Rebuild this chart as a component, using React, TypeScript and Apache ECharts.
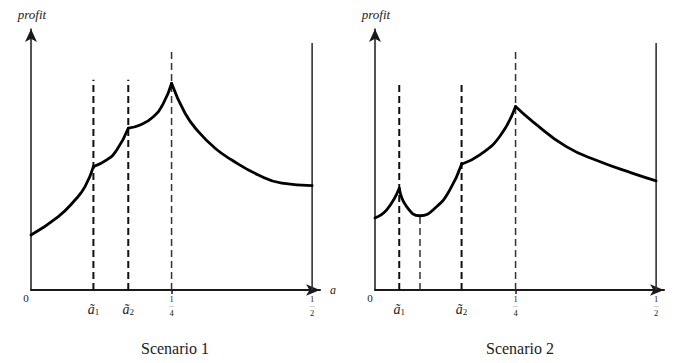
import React, { useEffect, useRef } from "react";
import * as echarts from "echarts";

// ---- Data (a-units on x, profit on y) ----
const tickValues1 = [0, 0.111, 0.173, 0.25, 0.5];
const tickValues2 = [0, 0.0431, 0.154, 0.25, 0.5];
const tickLabels = ["0", "a1", "a2", "1/4", "1/2"];

// Scenario 1 curve segments (kinks at ã1, ã2, 1/4)
const s1Seg1 = [[0, 20.6], [0.0486, 27.5], [0.0783, 33.7], [0.0961, 38.7], [0.111, 46.2]];
const s1Seg2 = [[0.111, 46.2], [0.1347, 48.7], [0.1525, 52.4], [0.173, 60.6]];
const s1Seg3 = [[0.173, 60.6], [0.194, 61.8], [0.2176, 64.9], [0.2354, 69.9], [0.25, 77.4]];
const s1Seg4 = [[0.25, 77.4], [0.274, 66.2], [0.2977, 59.3], [0.3274, 53.1], [0.3571, 48.7], [0.4044, 43.1], [0.4461, 40.0], [0.5, 39.1]];

// Scenario 2 curve segments
const s2Seg1 = [[0, 27.0], [0.0208, 30.0], [0.0431, 38.1]];
const s2Seg2 = [[0.0431, 38.1], [0.0563, 31.2], [0.08, 27.8], [0.1095, 31.2], [0.1331, 37.5], [0.154, 47.1]];
const s2Seg3 = [[0.154, 47.1], [0.1864, 50.6], [0.2218, 57.5], [0.25, 68.7]];
const s2Seg4 = [[0.25, 68.7], [0.281, 63.0], [0.3403, 53.7], [0.3994, 48.1], [0.4585, 43.7], [0.5, 40.9]];

// Vertical guide lines: [x, top]
const s1Dashed = [[0.111, 78.7], [0.173, 78.7]];
const s1Quarter = [0.25, 90.3];
const s2Dashed = [[0.0431, 77.5], [0.154, 77.5]];
const s2Thin = [[0.08, 27.8], [0.25, 90.3]];
const halfLine = [0.5, 92.5];

const Y_MAX = 97.75;
const X_MAX = 0.514;
const FONT = "Liberation Serif, DejaVu Serif, serif";

function richLabel(lbl: string): string {
  if (lbl === "0") return "{z|0}";
  if (lbl.startsWith("a")) return `{a|ã}{s|${lbl.slice(1)}}`;
  const [n, d] = lbl.split("/");
  return `{n|${n}}\n{b|—}\n{d|${d}}`;
}

const rich = {
  z: { fontSize: 11, lineHeight: 12, padding: [0, 10, 0, 0], fontFamily: FONT, color: "#222" },
  a: { fontSize: 14, lineHeight: 34, fontStyle: "italic", fontFamily: FONT, color: "#222" },
  s: { fontSize: 9, lineHeight: 28, padding: [6, 0, 0, 0], fontFamily: FONT, color: "#222" },
  n: { fontSize: 8.5, lineHeight: 10, padding: [4, 0, 0, 0], fontFamily: FONT, color: "#222" },
  b: { fontSize: 5, lineHeight: 6, fontFamily: FONT, color: "#222" },
  d: { fontSize: 8.5, lineHeight: 10, fontFamily: FONT, color: "#222" },
};

function xAxisFor(gridIndex: number, ticks: number[], withName: boolean) {
  return {
    type: "value",
    gridIndex,
    min: 0,
    max: X_MAX,
    name: withName ? "a" : "",
    nameLocation: "end",
    nameGap: 10,
    nameTextStyle: { fontFamily: FONT, fontStyle: "italic", fontSize: 12, color: "#222", verticalAlign: "middle" },
    axisLine: {
      show: true,
      symbol: ["none", "arrow"],
      symbolSize: [8.5, 14],
      lineStyle: { color: "#1a1a1a", width: 2 },
    },
    axisTick: { show: true, customValues: [0.25], length: 4, lineStyle: { color: "#1a1a1a", width: 1.5 } },
    axisLabel: {
      show: true,
      customValues: ticks,
      margin: 2,
      formatter: (v: number) => {
        const i = ticks.findIndex((t) => Math.abs(t - v) < 1e-6);
        return i >= 0 ? richLabel(tickLabels[i]) : "";
      },
      rich,
    },
    splitLine: { show: false },
  };
}

function yAxisFor(gridIndex: number) {
  return {
    type: "value",
    gridIndex,
    min: 0,
    max: Y_MAX,
    name: "profit",
    nameLocation: "end",
    nameGap: 8,
    nameTextStyle: { fontFamily: FONT, fontStyle: "italic", fontSize: 13, color: "#222", align: "center", padding: [0, 0, 0, 2] },
    axisLine: {
      show: true,
      symbol: ["none", "arrow"],
      symbolSize: [9, 13],
      lineStyle: { color: "#1a1a1a", width: 1.5 },
    },
    axisTick: { show: false },
    axisLabel: { show: false },
    splitLine: { show: false },
  };
}

function curve(idx: number, data: number[][]) {
  return {
    type: "line",
    xAxisIndex: idx,
    yAxisIndex: idx,
    data,
    smooth: 0.5,
    symbol: "none",
    z: 5,
    lineStyle: { color: "#000", width: 2.8, cap: "round", join: "round" },
  };
}

function vline(idx: number, x: number, top: number, width: number, dashed: boolean, color = "#111") {
  return {
    type: "line",
    xAxisIndex: idx,
    yAxisIndex: idx,
    data: [[x, 0], [x, top]],
    symbol: "none",
    z: 2,
    lineStyle: { color, width, type: dashed ? [7, 4] : "solid" },
  };
}

export default function App() {
  const ref = useRef<HTMLDivElement>(null);
  useEffect(() => {
    if (!ref.current) return;
    const chart = echarts.init(ref.current, undefined, { renderer: "svg" });
    const series: any[] = [
      ...s1Dashed.map(([x, t]) => vline(0, x, t, 2, true)),
      vline(0, s1Quarter[0], s1Quarter[1], 1.5, true, "#333"),
      vline(0, halfLine[0], halfLine[1], 1.6, false, "#333"),
      curve(0, s1Seg1),
      curve(0, s1Seg2),
      curve(0, s1Seg3),
      curve(0, s1Seg4),
      ...s2Dashed.map(([x, t]) => vline(1, x, t, 2, true)),
      ...s2Thin.map(([x, t]) => vline(1, x, t, 1.5, true, "#333")),
      vline(1, halfLine[0], halfLine[1], 1.6, false, "#333"),
      curve(1, s2Seg1),
      curve(1, s2Seg2),
      curve(1, s2Seg3),
      curve(1, s2Seg4),
    ];
    chart.setOption({
      animation: false,
      backgroundColor: "#fff",
      grid: [
        { left: 31, top: 29, width: 289, height: 261 },
        { left: 375, top: 29, width: 289, height: 261 },
      ],
      xAxis: [xAxisFor(0, tickValues1, true), xAxisFor(1, tickValues2, false)],
      yAxis: [yAxisFor(0), yAxisFor(1)],
      series,
      graphic: [
        {
          type: "text",
          x: 175,
          y: 348,
          style: { text: "Scenario 1", align: "center", verticalAlign: "middle", fontFamily: FONT, fontSize: 16, fill: "#222" },
        },
        {
          type: "text",
          x: 520,
          y: 348,
          style: { text: "Scenario 2", align: "center", verticalAlign: "middle", fontFamily: FONT, fontSize: 16, fill: "#222" },
        },
      ],
    });
    return () => chart.dispose();
  }, []);
  return <div ref={ref} style={{ position: "absolute", left: 0, top: 0, width: 676, height: 363 }} />;
}
